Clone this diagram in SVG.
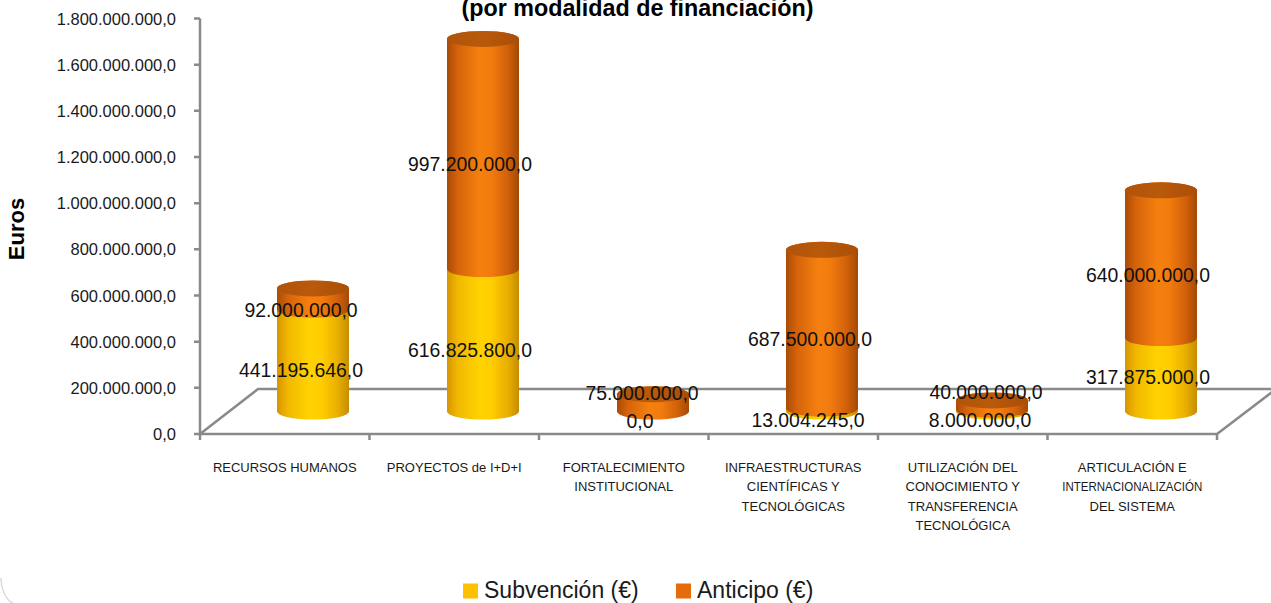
<svg xmlns="http://www.w3.org/2000/svg" width="1271" height="603" viewBox="0 0 1271 603">
<defs>
<linearGradient id="gOr" x1="0" y1="0" x2="1" y2="0">
<stop offset="0" stop-color="#a94b06"/>
<stop offset="0.15" stop-color="#d5630a"/>
<stop offset="0.45" stop-color="#f5800f"/>
<stop offset="0.62" stop-color="#f27b0e"/>
<stop offset="0.85" stop-color="#cf5f0a"/>
<stop offset="1" stop-color="#a34a06"/>
</linearGradient>
<linearGradient id="gYe" x1="0" y1="0" x2="1" y2="0">
<stop offset="0" stop-color="#d69500"/>
<stop offset="0.15" stop-color="#f0b800"/>
<stop offset="0.45" stop-color="#ffd300"/>
<stop offset="0.62" stop-color="#ffcd00"/>
<stop offset="0.85" stop-color="#e8ad00"/>
<stop offset="1" stop-color="#c58d00"/>
</linearGradient>
<linearGradient id="gCap" x1="0" y1="0" x2="1" y2="0">
<stop offset="0" stop-color="#b0540a"/>
<stop offset="0.5" stop-color="#b9590b"/>
<stop offset="1" stop-color="#a94f08"/>
</linearGradient>
</defs>
<style>
.ax{stroke:#8a8a8a;stroke-width:2.5;fill:none}
.yl{font-family:"Liberation Sans",Arial,sans-serif;font-size:16.5px;fill:#1a1a1a;text-anchor:end}
.cl{font-family:"Liberation Sans",Arial,sans-serif;font-size:13px;fill:#1a1a1a;text-anchor:middle}
.dl{font-family:"Liberation Sans",Arial,sans-serif;font-size:19.4px;fill:#111;text-anchor:middle}
.or{fill:url(#gOr)}
.ye{fill:url(#gYe)}
.cap{fill:url(#gCap)}
.lg{font-family:"Liberation Sans",Arial,sans-serif;font-size:23px;fill:#1a1a1a}
.ti{font-family:"Liberation Sans",Arial,sans-serif;font-weight:bold;fill:#000}
</style>
<rect width="1271" height="603" fill="#fff"/>
<path d="M0.8,578 Q2,598 14,604" fill="none" stroke="#d9d9d9" stroke-width="1.5"/>

<text class="ti" x="637.5" y="16" font-size="23.3" text-anchor="middle">(por modalidad de financiación)</text>
<text class="ti" font-size="22" text-anchor="middle" transform="translate(24,229) rotate(-90)">Euros</text>

<g id="axes">
<path class="ax" d="M200,18.5 V434 M194,18.5 H200 M194,64.7 H200 M194,110.8 H200 M194,157 H200 M194,203.2 H200 M194,249.3 H200 M194,295.5 H200 M194,341.7 H200 M194,387.8 H200 M194,434 H200"/>
<path class="ax" d="M200,434 L258,389 H1276 M200,434 H1217 L1276,389"/>
<path class="ax" d="M200,434 V440 M369.5,434 V440 M539,434 V440 M708.5,434 V440 M878,434 V440 M1047.5,434 V440 M1217,434 V440"/>
<text class="yl" x="176" y="24.5">1.800.000.000,0</text>
<text class="yl" x="176" y="70.7">1.600.000.000,0</text>
<text class="yl" x="176" y="116.8">1.400.000.000,0</text>
<text class="yl" x="176" y="163">1.200.000.000,0</text>
<text class="yl" x="176" y="209.2">1.000.000.000,0</text>
<text class="yl" x="176" y="255.3">800.000.000,0</text>
<text class="yl" x="176" y="301.5">600.000.000,0</text>
<text class="yl" x="176" y="347.7">400.000.000,0</text>
<text class="yl" x="176" y="393.8">200.000.000,0</text>
<text class="yl" x="176" y="440">0,0</text>
</g>

<g id="bar-recursos">
<path class="ye" d="M277,309.65 V411.5 A36,8 0 0 0 349,411.5 V309.65 A36,8 0 0 0 277,309.65 Z"/>
<path class="or" d="M277,288.41 V309.65 A36,8 0 0 0 349,309.65 V288.41 A36,8 0 0 0 277,288.41 Z"/>
<ellipse class="cap" cx="313" cy="288.41" rx="36" ry="8"/>
<text class="dl" x="301" y="317">92.000.000,0</text>
<text class="dl" x="301" y="377">441.195.646,0</text>
<text class="cl" x="284.75" y="471.5">RECURSOS HUMANOS</text>
</g>

<g id="bar-proyectos">
<path class="ye" d="M447,269.11 V411.5 A36,8 0 0 0 519,411.5 V269.11 A36,8 0 0 0 447,269.11 Z"/>
<path class="or" d="M447,38.9 V269.11 A36,8 0 0 0 519,269.11 V38.9 A36,8 0 0 0 447,38.9 Z"/>
<ellipse class="cap" cx="483" cy="38.9" rx="36" ry="8"/>
<text class="dl" x="470" y="171">997.200.000,0</text>
<text class="dl" x="470" y="357">616.825.800,0</text>
<text class="cl" x="454.25" y="471.5">PROYECTOS de I+D+I</text>
</g>

<g id="bar-fortalecimiento">
<path class="or" d="M617,394.19 V411.5 A36,8 0 0 0 689,411.5 V394.19 A36,8 0 0 0 617,394.19 Z"/>
<ellipse class="cap" cx="653" cy="394.19" rx="36" ry="8"/>
<text class="dl" x="642" y="400">75.000.000,0</text>
<text class="dl" x="640" y="428">0,0</text>
<text class="cl" x="623.75" y="471.5">FORTALECIMIENTO</text>
<text class="cl" x="623.75" y="491">INSTITUCIONAL</text>
</g>

<g id="bar-infraestructuras">
<path class="ye" d="M786,408.5 V411.5 A36,8 0 0 0 858,411.5 V408.5 A36,8 0 0 0 786,408.5 Z"/>
<path class="or" d="M786,249.79 V408.5 A36,8 0 0 0 858,408.5 V249.79 A36,8 0 0 0 786,249.79 Z"/>
<ellipse class="cap" cx="822" cy="249.79" rx="36" ry="8"/>
<text class="dl" x="810" y="346">687.500.000,0</text>
<text class="dl" x="808" y="427">13.004.245,0</text>
<text class="cl" x="793.25" y="471.5">INFRAESTRUCTURAS</text>
<text class="cl" x="793.25" y="491">CIENTÍFICAS Y</text>
<text class="cl" x="793.25" y="510.5">TECNOLÓGICAS</text>
</g>

<g id="bar-utilizacion">
<path class="ye" d="M956,409.65 V411.5 A36,8 0 0 0 1028,411.5 V409.65 A36,8 0 0 0 956,409.65 Z"/>
<path class="or" d="M956,400.42 V409.65 A36,8 0 0 0 1028,409.65 V400.42 A36,8 0 0 0 956,400.42 Z"/>
<ellipse class="cap" cx="992" cy="400.42" rx="36" ry="8"/>
<text class="dl" x="986" y="399">40.000.000,0</text>
<text class="dl" x="980" y="427">8.000.000,0</text>
<text class="cl" x="962.75" y="471.5">UTILIZACIÓN DEL</text>
<text class="cl" x="962.75" y="491">CONOCIMIENTO Y</text>
<text class="cl" x="962.75" y="510.5">TRANSFERENCIA</text>
<text class="cl" x="962.75" y="530">TECNOLÓGICA</text>
</g>

<g id="bar-articulacion">
<path class="ye" d="M1125,338.12 V411.5 A36,8 0 0 0 1197,411.5 V338.12 A36,8 0 0 0 1125,338.12 Z"/>
<path class="or" d="M1125,190.37 V338.12 A36,8 0 0 0 1197,338.12 V190.37 A36,8 0 0 0 1125,190.37 Z"/>
<ellipse class="cap" cx="1161" cy="190.37" rx="36" ry="8"/>
<text class="dl" x="1148" y="282">640.000.000,0</text>
<text class="dl" x="1148" y="384">317.875.000,0</text>
<text class="cl" x="1132.25" y="471.5">ARTICULACIÓN E</text>
<text class="cl" x="1132.25" y="491" textLength="140" lengthAdjust="spacingAndGlyphs">INTERNACIONALIZACIÓN</text>
<text class="cl" x="1132.25" y="510.5">DEL SISTEMA</text>
</g>

<g id="connectors"></g>

<g id="legend">
<rect x="463" y="583.5" width="15" height="15" fill="#ffc000"/>
<text class="lg" x="484" y="598">Subvención (€)</text>
<rect x="676" y="583.5" width="15" height="15" fill="#e46c0a"/>
<text class="lg" x="697" y="598">Anticipo (€)</text>
</g>
</svg>
